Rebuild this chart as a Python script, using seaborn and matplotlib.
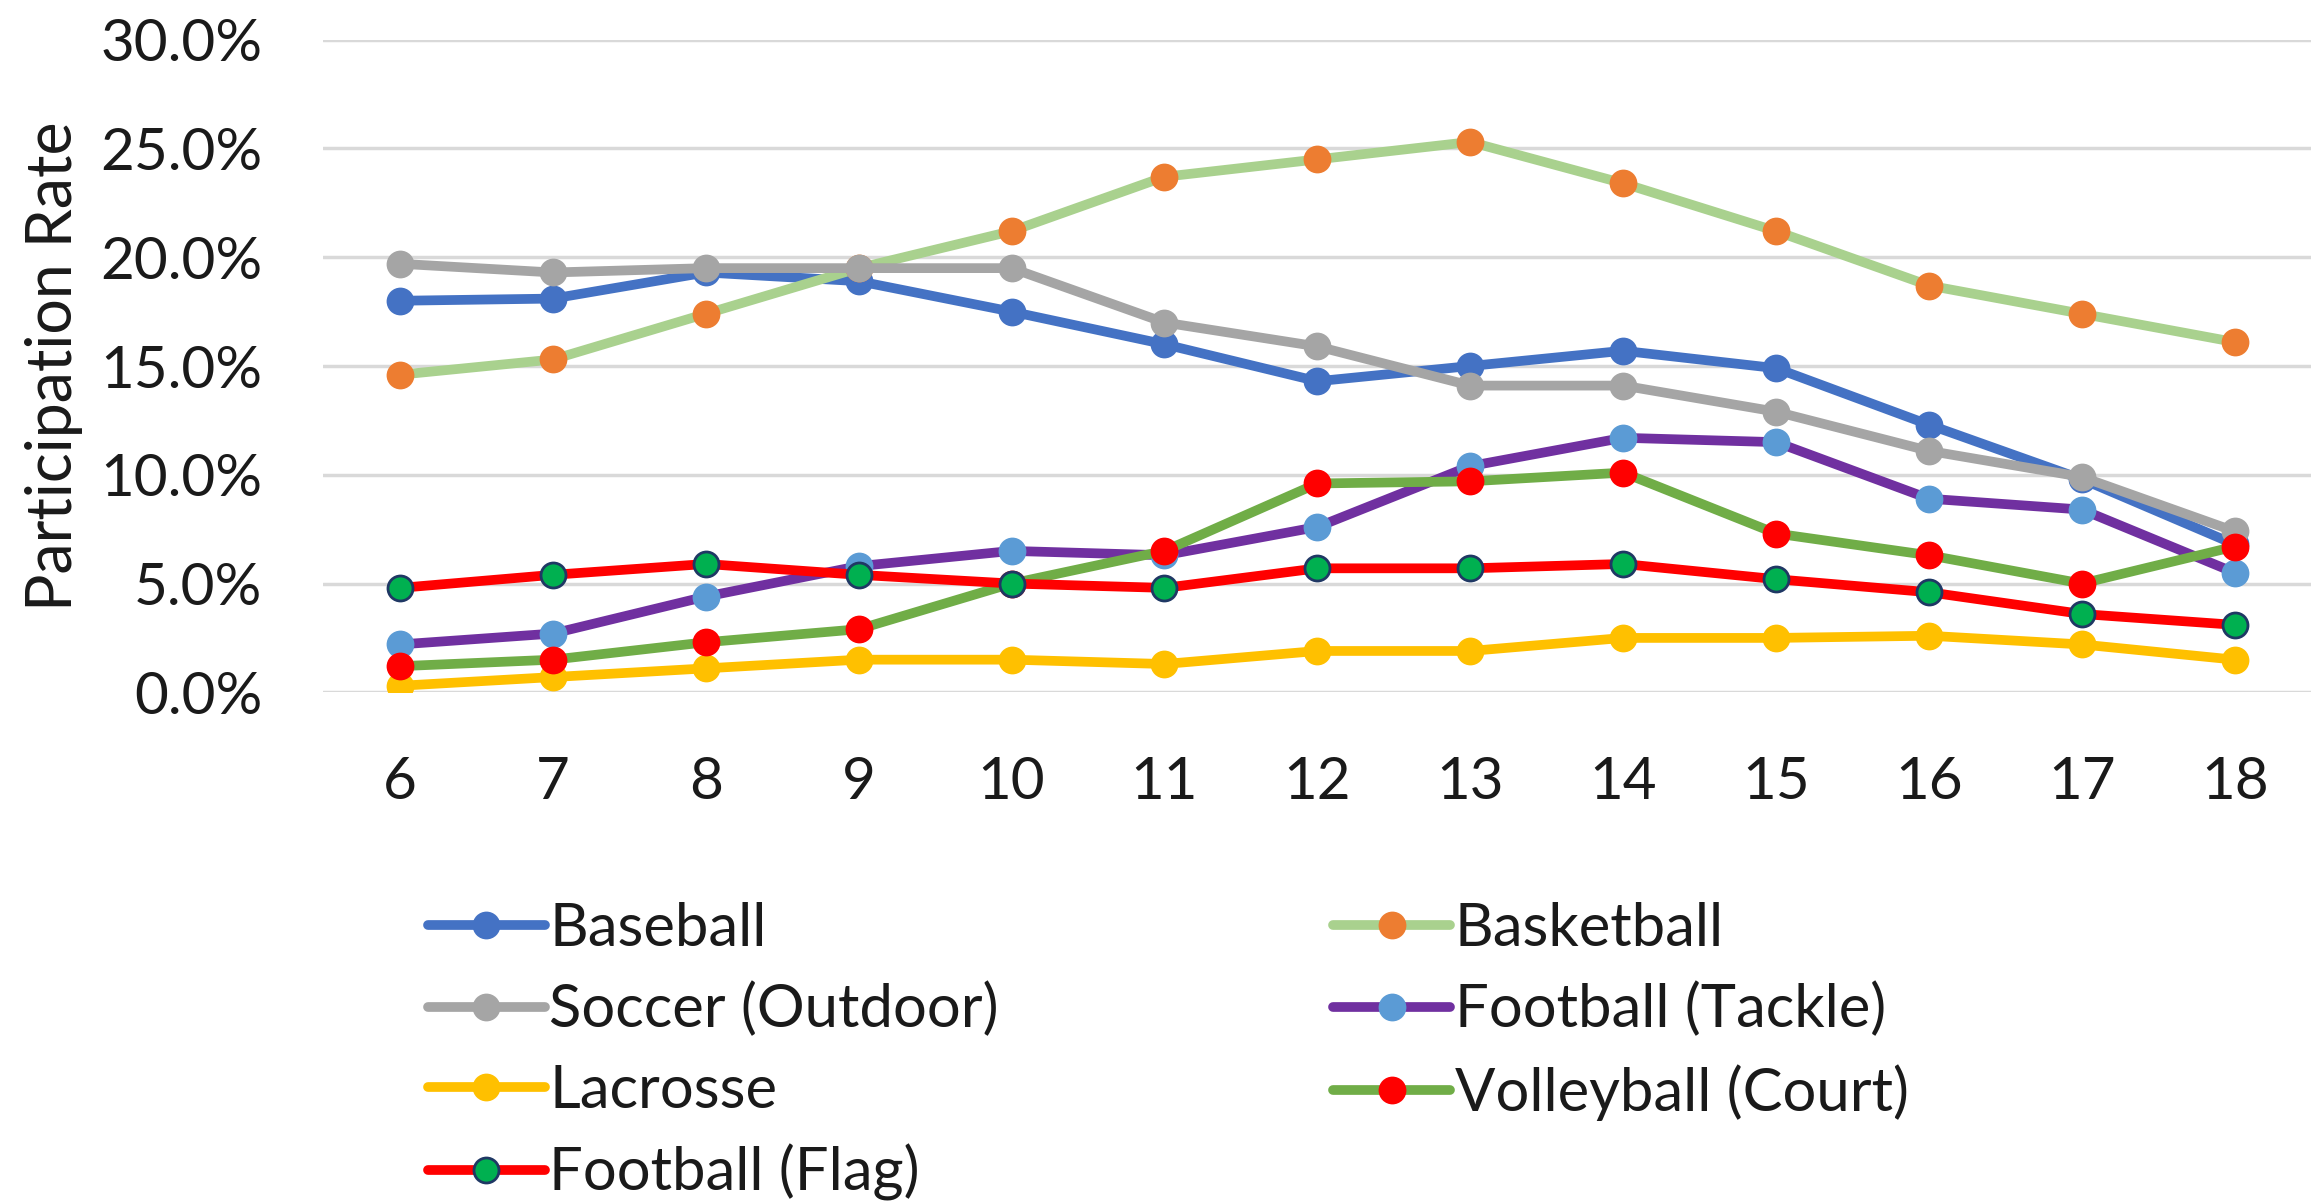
import matplotlib
matplotlib.use("Agg")
import matplotlib.pyplot as plt
import seaborn as sns
import numpy as np
from matplotlib.ticker import FuncFormatter

# Participation rate (%) by age
ages = [6, 7, 8, 9, 10, 11, 12, 13, 14, 15, 16, 17, 18]

baseball = [18.0, 18.1, 19.3, 18.9, 17.5, 16.0, 14.3, 15.0, 15.7, 14.9, 12.3, 9.8, 6.8]
basketball = [14.6, 15.3, 17.4, 19.5, 21.2, 23.7, 24.5, 25.3, 23.4, 21.2, 18.7, 17.4, 16.1]
soccer_outdoor = [19.7, 19.3, 19.5, 19.5, 19.5, 17.0, 15.9, 14.1, 14.1, 12.9, 11.1, 9.9, 7.4]
football_tackle = [2.2, 2.7, 4.4, 5.8, 6.5, 6.3, 7.6, 10.4, 11.7, 11.5, 8.9, 8.4, 5.5]
lacrosse = [0.3, 0.7, 1.1, 1.5, 1.5, 1.3, 1.9, 1.9, 2.5, 2.5, 2.6, 2.2, 1.5]
volleyball_court = [1.2, 1.5, 2.3, 2.9, 5.0, 6.5, 9.6, 9.7, 10.1, 7.3, 6.3, 5.0, 6.7]
football_flag = [4.8, 5.4, 5.9, 5.4, 5.0, 4.8, 5.7, 5.7, 5.9, 5.2, 4.6, 3.6, 3.1]

y_ticks = [0, 5, 10, 15, 20, 25, 30]

# name, values, line colour, marker face, marker edge
series = [
    ("Baseball", baseball, "#4472C4", "#4472C4", "#4472C4"),
    ("Basketball", basketball, "#A9D18E", "#ED7D31", "#ED7D31"),
    ("Soccer (Outdoor)", soccer_outdoor, "#A5A5A5", "#A5A5A5", "#A5A5A5"),
    ("Football (Tackle)", football_tackle, "#7030A0", "#5B9BD5", "#5B9BD5"),
    ("Lacrosse", lacrosse, "#FFC000", "#FFC000", "#FFC000"),
    ("Volleyball (Court)", volleyball_court, "#70AD47", "#FF0000", "#FF0000"),
    ("Football (Flag)", football_flag, "#FF0000", "#00B050", "#1F3864"),
]

sns.set_theme(style="white")
plt.rcParams["font.family"] = ["Lato", "DejaVu Sans"]

text_color = "#1A1A1A"
fig = plt.figure(figsize=(23.14, 12.04), dpi=100)
ax = fig.add_axes([0.1398, 0.425, 0.859, 0.542])

for name, vals, lc, mfc, mec in series:
    sns.lineplot(x=ages, y=vals, ax=ax, color=lc, linewidth=7, marker="o",
                 markersize=18, markerfacecolor=mfc, markeredgecolor=mec,
                 markeredgewidth=2, label=name, solid_capstyle="round",
                 solid_joinstyle="round")

ax.set_xlim(5.5, 18.5)
ax.set_ylim(0, 30)
ax.set_xticks(ages)
ax.set_yticks(y_ticks)
ax.yaxis.set_major_formatter(FuncFormatter(lambda v, p: f"{v:.1f}%"))
ax.grid(axis="y", color="#D9D9D9", linewidth=2.5)
ax.set_axisbelow(True)
for s in ax.spines.values():
    s.set_visible(False)
ax.tick_params(axis="both", length=0, labelsize=42, colors=text_color)
ax.tick_params(axis="y", pad=44)
ax.tick_params(axis="x", pad=46)
ax.set_xlabel("")
ax.set_ylabel("Participation Rate", fontsize=45, color=text_color, labelpad=12)

# two-column legend filled row by row
h, l = ax.get_legend_handles_labels()
order = [0, 2, 4, 6, 1, 3, 5]
ax.legend([h[i] for i in order], [l[i] for i in order], ncol=2,
          loc="upper left", bbox_to_anchor=(0.185, 0.251),
          bbox_transform=fig.transFigure, frameon=False, fontsize=43,
          handlelength=1.95, handletextpad=0.08, columnspacing=5.6,
          labelspacing=0.44, borderpad=0, borderaxespad=0)
for t in ax.get_legend().get_texts():
    t.set_color(text_color)

fig.savefig("out.png", dpi=100, facecolor="white")
